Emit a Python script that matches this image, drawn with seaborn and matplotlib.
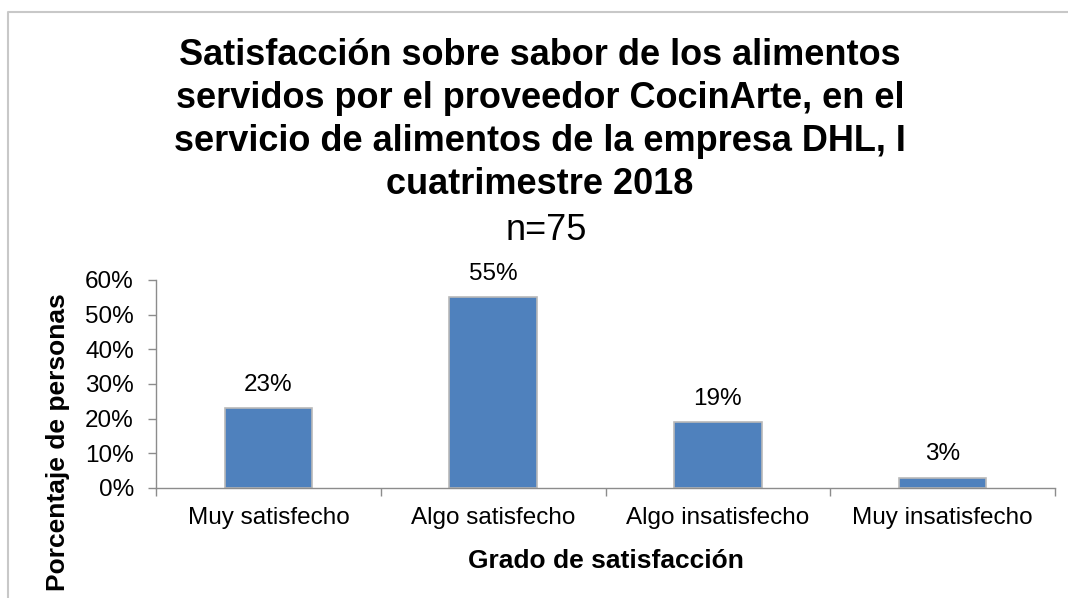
import pandas as pd
import seaborn as sns
import matplotlib.pyplot as plt
from matplotlib.lines import Line2D
from matplotlib.ticker import PercentFormatter

# Datos
categorias = ['Muy satisfecho', 'Algo satisfecho', 'Algo insatisfecho', 'Muy insatisfecho']
porcentajes = [23, 55, 19, 3]
titulo_lineas = ['Satisfacción sobre sabor de los alimentos',
                 'servidos por el proveedor CocinArte, en el',
                 'servicio de alimentos de la empresa DHL, I',
                 'cuatrimestre 2018']

df = pd.DataFrame({'categoria': categorias, 'pct': porcentajes})

sns.set_theme(style="white")
plt.rcParams['font.family'] = ['Liberation Sans', 'DejaVu Sans']

fig = plt.figure(figsize=(10.68, 5.98), dpi=100)
ax = fig.add_axes([156/1068, 1-488/598, (1055-156)/1068, (488-280)/598])

sns.barplot(data=df, x='categoria', y='pct', color='#4F81BD', width=0.39,
            edgecolor='#B9B9B9', linewidth=1.2, saturation=1, ax=ax)

# Etiquetas de datos
for bar, v in zip(ax.patches, porcentajes):
    ax.annotate(f'{v}%', (bar.get_x() + bar.get_width()/2, bar.get_height()),
                xytext=(0, 17), textcoords='offset points', ha='center', va='center',
                fontsize=17.5, color='black')

ax.set_ylim(0, 60)
ax.set_yticks(range(0, 61, 10))
ax.yaxis.set_major_formatter(PercentFormatter(decimals=0))
ax.set_xlim(-0.5, 3.5)
ax.set_xticks([-0.5, 0.5, 1.5, 2.5, 3.5], minor=False)
ax.set_xticklabels([])
ax.set_xticks(range(4), minor=True)
ax.set_xticklabels(categorias, minor=True)
ax.tick_params(axis='x', which='major', length=6, width=1, color='#8C8C8C', direction='out', bottom=True)
ax.tick_params(axis='x', which='minor', length=0, labelsize=17.5, pad=14, labelcolor='black')
ax.tick_params(axis='y', length=6, width=1, color='#8C8C8C', direction='out', left=True,
               labelsize=17.5, labelcolor='black', pad=10)

for s in ['top', 'right']:
    ax.spines[s].set_visible(False)
for s in ['left', 'bottom']:
    ax.spines[s].set_color('#8C8C8C')
    ax.spines[s].set_linewidth(1)

ax.set_xlabel('Grado de satisfacción', fontsize=19, fontweight='bold', color='black')
ax.set_ylabel('Porcentaje de personas', fontsize=19, fontweight='bold', color='black')
ax.xaxis.set_label_coords(0.5, -0.295)
ax.yaxis.set_label_coords(-0.0957, 0.221)

# Titulo, una linea a la vez
for i, linea in enumerate(titulo_lineas):
    fig.text(540/1068, 1-(65 + 43*i)/598, linea, ha='center', va='baseline',
             fontsize=26, fontweight='bold', color='black')
fig.text(546/1068, 1-240/598, 'n=75', ha='center', va='baseline', fontsize=26, color='black')

# Marco del grafico
fig.add_artist(Line2D([8/1068, 8/1068, 1.0], [0, 1-12/598, 1-12/598],
                      transform=fig.transFigure, color='#C8C8C8', linewidth=1.5))

fig.savefig('out.png', dpi=100)
